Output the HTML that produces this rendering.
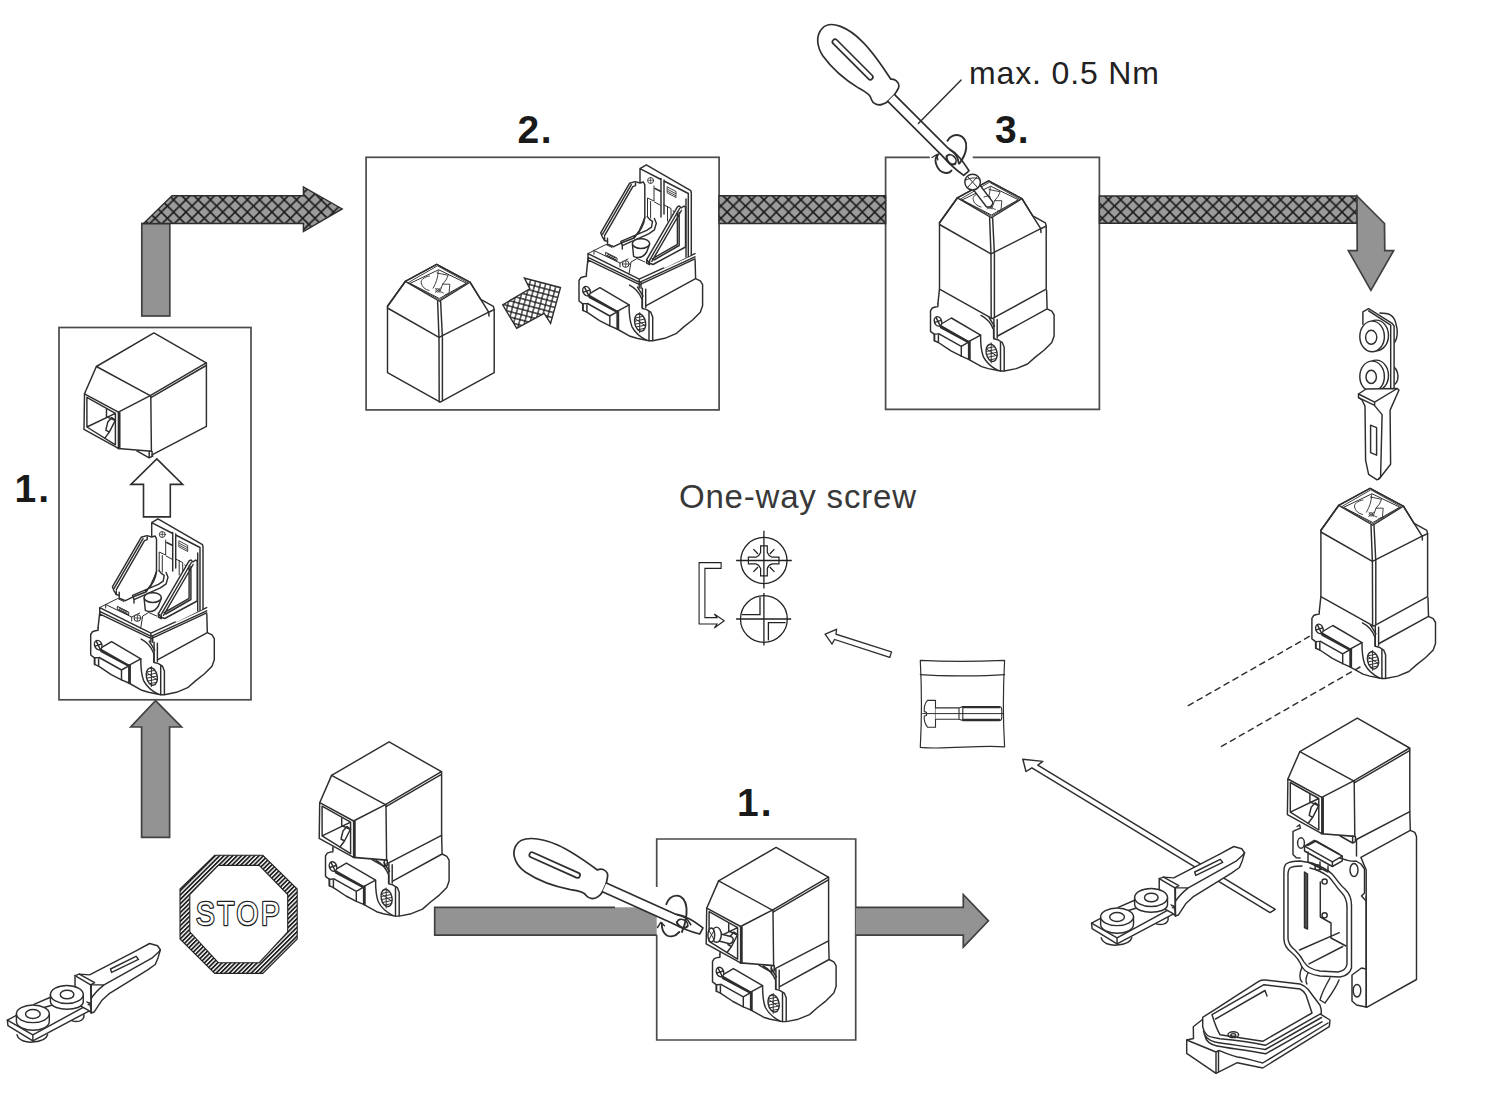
<!DOCTYPE html>
<html><head><meta charset="utf-8"><title>Assembly</title>
<style>
html,body{margin:0;padding:0;background:#fff;}
body{width:1500px;height:1096px;overflow:hidden;}
svg{display:block;}
.t{font-family:"Liberation Sans",sans-serif;}
#hact *{vector-effect:non-scaling-stroke;}
</style></head><body>
<svg width="1500" height="1096" viewBox="0 0 1500 1096">
<defs>
<pattern id="xh" patternUnits="userSpaceOnUse" width="12.3" height="12.3" x="727.07" y="199.83">
<rect width="12.3" height="12.3" fill="#9b9b9b"/>
<path d="M-1,-1 L13.3,13.3 M13.3,-1 L-1,13.3" stroke="#1a1a1a" stroke-width="1.55" fill="none"/>
</pattern>
<pattern id="xs" patternUnits="userSpaceOnUse" width="3" height="3">
<rect width="3" height="3" fill="#fff"/>
<path d="M0,1.5 H3" stroke="#222" stroke-width="0.9" fill="none"/>
</pattern>
<pattern id="gr" patternUnits="userSpaceOnUse" width="5.2" height="5.2" patternTransform="rotate(15)">
<rect width="5.2" height="5.2" fill="#fff"/>
<path d="M0,2.6 H5.2 M2.6,0 V5.2" stroke="#1a1a1a" stroke-width="1.2" fill="none"/>
</pattern>
<pattern id="st" patternUnits="userSpaceOnUse" width="3.1" height="3.1" patternTransform="rotate(-45)">
<rect width="3.1" height="3.1" fill="#fff"/>
<rect width="3.1" height="1.75" fill="#1e1e1e"/>
</pattern>
<g id="sidecap" fill="none">
<path d="M331.6,775.4 L389.1,741.8 L441.4,771.7 L441.6,835.3 L387.2,863.7 L386.6,860 L353.3,857.4 L319.2,838.3 L319.7,802.7 Z" fill="#fff" stroke="none"/>
<path d="M331.6,775.4 L389.1,741.8 L441.4,771.7 L385.4,804.6 Z" fill="#fff"/>
<path d="M386,806.6 L441.4,774.4"/>
<path d="M441.6,771.8 V835.5 M386,805 L386.6,860 M387.2,863.7 L441.6,835.3"/>
<path d="M331.6,775.4 L319.7,802.7 L353.6,821 L385.4,804.6" stroke-width="1.5"/>
<path d="M319.7,802.7 L319.2,838.3 L353.6,857.3 L353.6,821 M355,821.5 V857.5"/>
<path d="M322.1,806.2 L350.6,822.2 L350.6,853.7 L322.1,835.9 Z M322.1,835.9 L350.6,822.2"/>
<path d="M341.7,818.1 L341.7,825.5 L350.6,829.5 M343,831 L347,826.5 L350.6,829 L344.5,841 L341,839 Z M340,847 L344.5,841"/>
<path d="M353.3,857.4 L386.6,860.1" stroke-width="1.6"/>
<path d="M372,859.7 L384.4,866.7 L388,864.9 M384.4,860 V866.7 M387.3,860.3 V865"/>
</g>
<g id="body" fill="none">
<path d="M332.9,848.9 L334.5,834 M441.6,835.3 L442.1,854 M392.7,881.1 L442.1,854 L446.8,856.3 L449.1,860.1 L449.1,881.1 L446.8,887.6 L439.3,895.1 L430,902.5 L422.5,909.1 L411.3,913.7 L399.2,916.1 L395.5,916.1"/>
<path d="M392.2,864.7 V883 M388.9,863.7 V883"/>
<path d="M388.9,883.9 L392.7,884.8 L397.3,887.6 L399.2,892.3 V915.8 M395.5,886.5 V915.8"/>
<path d="M376,860.5 C381,863 386,868 388.6,874.8 V883.5 M384,862.5 L389.5,871.5"/>
<path d="M375.6,880.2 C375.5,890 376.5,897 378.4,902 C381,907 386,912 393,915.6"/>
<ellipse cx="386.6" cy="897.9" rx="5.4" ry="8.8" transform="rotate(-12 386.6 897.9)" fill="url(#xs)"/>
<path d="M386.2,888 V908 M381.5,894 L391.5,901" stroke-width="1"/>
<path d="M332.9,848.9 V851.7 L330.1,852.1 L327.3,853.1 L325.5,855.9 V876.4 L329.2,879.2 V885.7 L333.4,887.6 L346,896 L356.3,901.3 L363.6,904.4 L376.6,911.7 L383.3,913.7 L395.5,916.1"/>
<path d="M346.4,863.1 L375.6,880.2 L363.6,886.7 L334.5,870.1 Z" fill="#fff"/>
<path d="M335,871.6 L363.6,886.7 M335.6,872.8 L363.3,887.6 M334,878.9 L356.3,891.4 L363.6,887.2 M356.3,891.4 V901.3 M363.6,886.7 V904.4 M365,886 V905"/>
<path d="M329.6,880 V886 M333.4,880 V887.5 M329.2,879.2 L334,879"/>
<ellipse cx="333" cy="866.5" rx="3.6" ry="4.8" transform="rotate(-20 333 866.5)" fill="#fff"/>
<path d="M331,862.5 L335,870.5 M329.8,867.5 L336.2,865.5"/>

</g>
<g id="topcap" fill="none">
<path d="M436.7,264.3 L405.3,281.4 L387.5,306.3 V372.7 L440.2,402.1 L494.2,372.7 V309.6 L493.4,306.4 L480.7,299.3 L470,282.2 Z" fill="#fff"/>
<path d="M436.7,264.3 L405.3,281.4 L439.4,301.3 L470,282.2 Z" stroke-width="1.3"/>
<path d="M437.1,266 L408.3,282.6 L439.4,299.8 L467.6,283 Z" stroke-width="0.9"/>
<path d="M438.3,269.9 L410.1,283.4 L439.4,298.5 L466,283.4 Z" stroke-width="1"/>
<path d="M405.3,281.4 L387.5,306.3" stroke-width="1.7"/>
<path d="M470,282.2 L480.7,299.3 L488.7,312.2 L494.2,309.6 M488.7,312.2 L489,316" stroke-width="1.5"/>
<path d="M387.5,308 L439,337.4 L488.7,312.2"/>
<path d="M437.6,301.3 L439,337.4 L439.2,402 M440.6,301.3 L442.4,337.4 L442.4,400.5"/>
<path d="M438.3,270.7 C438,278 436,283 433.1,288.2 M429.5,276 C424,277 420.5,280 421.2,283 C422,287 425,289.5 429.1,290.5 M437,273 L448.2,275.3 L446,280 L442.6,284.2 L449.8,284.2 L449,293.7 L445.5,294.5 M442.6,284.2 L440.2,291" stroke-width="0.9"/>
<circle cx="437.6" cy="290.3" r="1.8" stroke-width="0.8"/>
<path d="M435.2,292.5 L440.5,288 M435.5,288.5 L440,292.5 M440,291.5 L443.5,293" stroke-width="0.8"/>
</g>
<g id="openhead" fill="none">
<!-- slab -->
<path d="M588,253.6 L600,247.5 L606,250 L618,244 L625,247 L640,240 L695,253.6 L639.2,279.2 Z" fill="#fff" stroke="none"/>
<path d="M588,253.6 L639.2,279.2 L695,253.6 M588,253.6 V262.1 M588,257.4 L639.5,282.4 L695,256.8 M588.4,260.2 L639.6,284.6 L695,258.8 M639.2,279.2 V288 M641,282 V288.3"/>
<path d="M588,253.6 L594,250.5 L594,254 M594,250.5 L606,244.5 L612,247.5 M594,250.5 L620,263 L620,267 M606,252.5 L617,258 L617,261 L606,255.5 Z M607.5,254 L615.5,258 M607.5,255.5 L615.5,259.5" stroke-width="1"/>
<path d="M620,263 L628,259 M629,274 L631,262 L637,258.5 L645,262" stroke-width="1"/>
<circle cx="625.7" cy="264" r="3.4" fill="#fff" stroke-width="1"/>
<path d="M623,264 H628.4 M625.7,261.3 V266.7" stroke-width="0.8"/>
<!-- back plate -->
<path d="M640,182 L640,168.6 L646.3,164.8 L690.8,190.7 L691.3,192.6 L691.3,255 L665,268 L640,256 Z" fill="#fff" stroke="none"/>
<path d="M640,182 L640,168.6 L646.3,164.8 L690.8,190.7 L691.3,192.6 V255.5 M640,168.6 L661,179.5 M664,181 L688.3,193.5 V256.5 M686,199 V257 M661,178.5 V217 M664,180 V214 M655,188.5 L661,191.5"/>
<circle cx="650.6" cy="180.5" r="3" stroke-width="0.9"/>
<path d="M648,180.3 H653.2 M650.6,177.8 V183" stroke-width="0.7"/>
<path d="M667.5,187 L676,191.5 L676,197.5 L667.5,193 Z M668,189.5 L675.5,193.5 M668,191.5 L675.5,195.5" stroke-width="0.9"/>
<path d="M654,186 L654,201 L647.5,198 L647.5,216 M650.6,201.5 V218 M654.5,202 L660,205 M664,205 L671,208.5 L671,218 M667.5,206.5 V221 M673,211 L680,214" stroke-width="1"/>
<!-- left wing -->
<path d="M600.7,232.8 L629.5,183.3 L635.2,181.6 L640,183 L643.4,182 L644.8,184.9 L644.8,217.5 C643,223 641,227 639.1,230.9 L634,238 L620.4,243.3 L613.7,246.7 L607.5,244.3 L607.5,241.4 L604.6,240.5 L602.2,236.6 Z" fill="#fff"/>
<path d="M602.6,234.2 L631.3,184.7 M604.6,235.6 L632.8,186.6 L635.5,185.6 L635.5,183 M604.6,240.5 L604.6,237 M607.5,241.4 L607.5,238.2"/>
<!-- rail -->
<path d="M620.9,241.4 L646.7,230.4 L651.5,227.1 L652.5,221.3 L649.6,219.4 L647.2,216.5 M622.3,245.7 L648.7,233.8 L654.4,229.9 L656.3,223.2 L654.4,218.4 M620.9,241.4 L622.3,245.7 L622.3,249 M634,238 C640,232 644,226 644.8,217.5"/>
<!-- pin -->
<path d="M632.4,244.3 L633.6,256.3 C638,258.5 643,257.8 646.7,252 L649.6,244.3" fill="#fff"/>
<ellipse cx="641" cy="243.6" rx="8.6" ry="4.8" fill="#fff"/>
<!-- right wing -->
<path d="M646.7,259.6 L677.4,206.9 L679.3,206 L681.2,207.9 L684.1,206 L685.5,207.4 L685.5,247 L653,264.5 L649,263 Z" fill="#fff"/>
<path d="M649.3,260.8 L679.6,208.5 M651.8,261.3 L681.4,210.5 M677.4,211.7 V244.3 L652.5,258.7 M679.2,212.5 V245.5 L654,260 M646.7,259.6 V263.2 L649.5,264.7 M649.5,261 V264.7"/>
</g>
<g id="sd" fill="none">
<path fill="#fff" d="M0,-4.8 C-1,-8 -1,-12 -3,-14 C-6,-16.5 -11,-16.5 -13.5,-13 C-25,-15.5 -45,-19.5 -60,-19.5 C-80,-19.5 -98,-13 -98,-1 C-98,10 -88,16.5 -78,18.5 C-63,21 -45,19.5 -30,16 C-22,13.5 -16,12.5 -13,15 C-9,17 -4,15 -2,11 C-1,9 0,6 0,4.8 Z"/>
<rect x="-82" y="-2.6" width="55" height="5.2" rx="2.6"/>
<path fill="#fff" d="M0,-4.8 L76,-4.8 C86,-7.5 95,-6 106.5,-3.5 L106,3.5 C97,5 88,5.5 76,4.8 L0,4.8"/>
<path d="M78,-4.8 C84,-6.5 90,-5 94,-1.5 M80,2 C86,6.5 91,5 92,1"/>
<ellipse cx="86" cy="1" rx="5.5" ry="4" />
</g>
<g id="hact" fill="none">
<path d="M150,880 C160,930 230,950 290,945 C360,940 410,915 420,880" fill="#fff"/>
<path d="M600,730 C615,760 665,770 700,760 C730,750 745,730 740,700" fill="#fff"/>
<path d="M700,345 L790,352 L1200,140 L1320,75 L1390,95 L1415,130 L1395,200 L1370,260 L1300,310 L960,520 L900,575 L830,680 L805,688 L805,440 Z" fill="#fff"/>
<path d="M800,440 L918,440 L1340,205 L1400,150 L1415,130 M918,440 C880,470 830,520 805,560"/>
<path d="M975,300 L1200,188 L1222,215 L985,330 Z"/>
<path d="M65,752 L140,712 L660,560 L790,600 L805,660 L290,935 L70,800 Z" fill="#fff"/>
<path d="M65,752 L290,882 L795,605 M290,882 V935 M300,612 L455,545"/>
<path d="M662,358 L700,345 L835,420 L800,440 Z" fill="#fff"/>
<path d="M662,358 V600 L785,668 L805,688 M800,440 L805,688" fill="#fff"/>
<path d="M445,525 V590 C450,635 530,655 590,655 C660,655 730,635 735,590 V525" fill="#fff"/>
<ellipse cx="590" cy="525" rx="145" ry="80" fill="#fff"/>
<ellipse cx="592" cy="525" rx="60" ry="38"/>
<path d="M145,695 V765 C150,815 230,840 290,840 C360,840 430,815 435,765 V695" fill="#fff"/>
<ellipse cx="290" cy="695" rx="145" ry="78" fill="#fff"/>
<ellipse cx="290" cy="697" rx="65" ry="40"/>
</g>
</defs>
<rect width="1500" height="1096" fill="#fff"/>

<!-- ===== labels ===== -->
<g class="t" font-weight="bold" fill="#1a1a1a" font-size="39">
<text x="14.5" y="502" letter-spacing="2">1.</text>
<text x="517.5" y="142.7" letter-spacing="1.5">2.</text>
<text x="995" y="143" letter-spacing="1">3.</text>
<text x="737" y="816" letter-spacing="2">1.</text>
</g>
<text class="t" x="969" y="83.6" font-size="32" fill="#222" letter-spacing="0.86">max. 0.5 Nm</text>
<text class="t" x="679" y="508.3" font-size="33" fill="#383838" letter-spacing="0.8">One-way screw</text>

<!-- ===== boxes ===== -->
<g fill="none" stroke="#4a4a4a" stroke-width="1.7">
<rect x="59" y="327.5" width="192" height="372.3"/>
<rect x="366.1" y="157.3" width="353" height="252.6"/>
<path d="M929.8,157.3 H885.6 V409.3 H1099.4 V157.3 H972.8"/>
<path d="M656.7,887 V839 H855.7 V1040 H656.7 V935"/>
</g>

<!-- ===== hatched bands and gray arrows ===== -->
<g stroke="#2e2e2e" stroke-width="1.4" stroke-linejoin="miter">
<!-- L arrow top-left -->
<rect x="141.8" y="223.5" width="28" height="92.5" fill="#939393" stroke="#404040" stroke-width="1.7"/>
<path d="M143.5,223.5 L172,195.7 L303.4,195.7 L303.4,187 L342.2,208.9 L303.4,231.6 L303.4,223.5 Z" fill="url(#xh)"/>
<!-- band between box 2 and 3 -->
<path d="M719,195.7 H885.6 V223.5 H719 Z" fill="url(#xh)"/>
<!-- band right + down arrow -->
<path d="M1099.4,196 H1357 V223.3 H1099.4 Z" fill="url(#xh)"/>
<path d="M1357,196 L1384.5,223.5 L1384.8,250.7 L1393.6,250.7 L1370.9,290.4 L1348.4,250.7 L1357.2,250.7 Z" fill="#939393" stroke="#404040" stroke-width="1.7"/>
<!-- up arrow under box1 -->
<path d="M155.5,700.6 L181.6,727 L169.6,727 L169.6,837.4 L141.6,837.4 L141.6,727 L130.7,727 Z" fill="#939393" stroke="#404040" stroke-width="1.7"/>
<!-- bottom arrow -->
<rect x="434.7" y="907.3" width="222" height="27.8" fill="#939393" stroke="none"/>
<path d="M615,907.3 H434.7 V935.1 H656.7" fill="none" stroke="#404040" stroke-width="1.7"/>
<path d="M855.8,907.3 L963.3,907.3 L963.3,894.5 L988.4,920.8 L963.3,947.1 L963.3,935.1 L855.8,935.1" fill="#939393" stroke="#404040" stroke-width="1.7"/>
</g>

<!-- ===== STOP sign ===== -->
<g stroke="#222" stroke-width="1.1">
<path fill-rule="evenodd" fill="url(#st)" d="M214.7,855.3 L262.8,855.3 L297.2,889 L297.2,939 L262.8,973.4 L214.7,973.4 L180,939 L180,889 Z M218.3,865.4 L259.2,865.4 L287.7,894.5 L287.7,931.8 L259.2,962.7 L218.3,962.7 L189.8,931.8 L189.8,894.5 Z"/>
</g>
<g transform="translate(196,924.6) scale(0.85,1)" class="t" font-size="33" letter-spacing="3.1">
<text x="0" y="0" fill="#1e1e1e" stroke="#1e1e1e" stroke-width="2.7" stroke-linejoin="round">STOP</text>
<text x="0" y="0" fill="#fff">STOP</text>
</g>

<!-- ===== one-way screw symbols ===== -->
<g fill="none" stroke="#222" stroke-width="1.1">
<circle cx="763.9" cy="560.5" r="23.1" stroke-width="1.3"/>
<path d="M736.1,560.5 H791.8 M763.9,530.8 V588.6" stroke-width="1.3"/>
<path d="M760.6,545.8 H767.3 V552.5 Q768.5,556 772,557.2 H779 V563.9 H772 Q768.5,565 767.3,568.5 V575.9 H760.6 V568.5 Q759.3,565 756,563.9 H748.4 V557.2 H756 Q759.3,556 760.6,552.5 Z" stroke-width="1.2"/>
<path d="M753.4,549.1 L758,554 M774.4,549.1 L769.8,554 M753.4,571.9 L758,567 M774.4,571.9 L769.8,567" stroke-width="1.3"/>
<circle cx="763.9" cy="619" r="23.4" stroke-width="1.3"/>
<path d="M736.1,619 H791.2 M763.9,593.1 V645.4" stroke-width="1.3"/>
<path d="M741.7,614.6 H760 V597 M785.6,622.6 H768.4 V640.4" stroke-width="1.3"/>
<path d="M699.1,562.6 H721.1 V568.4 H704.9 V617.6 H717 L714.3,614 L724.2,620.8 L714.3,628 L717,624 H699.1 Z"/>
</g>

<!-- ===== devices ===== -->
<g stroke="#2e2e2e" stroke-width="1.45" stroke-linejoin="round" stroke-linecap="round" fill="none">
<!-- D1 near STOP -->
<use href="#body"/>
<use href="#sidecap"/>
<!-- box 2 cap -->
<use href="#topcap"/>
<!-- box 1 cap -->
<use href="#sidecap" transform="translate(-235.2,-408.9)"/>
<!-- D5 bottom box -->
<use href="#body" transform="translate(387,105.5)"/>
<use href="#sidecap" transform="translate(387,105.5)"/>
<!-- D3 box 3 -->
<use href="#body" transform="translate(605,-545.1)"/>
<use href="#topcap" transform="translate(552,-83.5)"/>
<!-- D4 right -->
<use href="#body" transform="translate(986.4,-237.6)"/>
<use href="#topcap" transform="translate(933.4,224)"/>
<!-- box2 open device -->
<use href="#body" transform="translate(253.5,-575.4)"/>
<use href="#openhead"/>
<!-- box1 open device -->
<use href="#body" transform="translate(-234.8,-221.4)"/>
<use href="#openhead" transform="translate(-488.3,354)"/>
<!-- screw at box3 -->
<path d="M980,185.2 L992.7,201.9 C993.5,205 990,208 986.4,206.8 L973.7,190.1 Z" fill="#fff"/>
<path d="M984,197 C986,196 989,195.5 990.5,197" stroke-width="1"/>
<circle cx="972.6" cy="182.1" r="7.8" fill="#fff"/>
<path d="M967.5,176.5 L977.5,187.5 M977.5,176.5 L967.5,187.5 M966,180 C970,178 975,177 979,179" stroke-width="1"/>
<!-- screw in D5 opening -->
<path d="M719,933.5 L731.5,936.8 C734,938 734,943 729.5,943.8 L719,941 Z" fill="#fff"/>
<ellipse cx="716.5" cy="934.7" rx="4.8" ry="7.6" fill="#fff"/>
<ellipse cx="711.3" cy="935" rx="3.4" ry="7" fill="#fff"/>
<path d="M709,930.5 L714,939.5 M714,930.5 L709,939.5" stroke-width="1"/>
<!-- screwdrivers -->
<use href="#sd" transform="translate(891.2,98) rotate(45)" stroke-width="1.7"/>
<use href="#sd" transform="translate(604.4,887.4) rotate(24.2)" stroke-width="1.7"/>
<path d="M961.1,79.9 L918.4,123.4"/>
<g stroke-width="1.9">
<path d="M947.5,140.7 C950,136 955,134.5 958.5,135.2 C964,136.5 967,142 966.2,148 C965.5,154 962.5,159.5 959.4,163.5"/>
<path d="M938.4,154.3 C935.5,157 935,161 936.1,164 C937.5,168.5 941,172.5 945.7,173 C948.5,173.3 950.5,172 951.5,170.5"/>
<path d="M932,157.5 L936.8,154.5 L937.8,159.8" stroke-width="1.4"/>
<path d="M666.3,904.2 C668,899 672,895.8 676.7,895.6 C682,895.5 686,901 686.5,908 C687,916 685,925 681.9,932"/>
<path d="M661.9,923.3 C661.5,928 663.5,933 667,935.5 C670,937 675,936.8 679.3,932"/>
<path d="M657.5,927.5 L660.8,922.3 L664.5,925.8" stroke-width="1.4"/>
</g>

<!-- box2 hatched arrow -->
<path d="M502.7,304.8 L529.8,288.8 L524.4,278 L560.5,287.6 L550.6,323.3 L544.2,313.4 L516.7,328.4 Z" fill="url(#gr)" stroke-width="1.4" stroke-linejoin="miter"/>
<!-- box1 white arrow -->
<path d="M156.8,458.9 L182.7,484.4 L170.3,484.4 V516.9 H143.5 V484.4 H130.9 Z" fill="#fff" stroke-width="1.6" stroke-linejoin="miter"/>
<!-- small arrow -->
<path d="M825.2,634.2 L836.5,629.4 L836,634.2 L891.5,652 L889.8,657.4 L834.5,639.5 L832,644.1 Z" fill="#fff" stroke-width="1.3" stroke-linejoin="miter"/>
<!-- screw bag -->
<path d="M920.3,660.3 C940,661.5 980,661.5 1004.6,660.3 C1003,690 1003,720 1004.6,746.9 C980,744.5 945,750 920.3,747.4 C921.8,720 921.8,690 920.3,660.3 Z" fill="#fff" stroke-width="1.2"/>
<path d="M920.3,674.6 C940,676 980,676.5 1004.6,674.6" stroke-width="1.2"/>
<path d="M927.5,700.4 H935.5 V727.2 H927.5 C925,724 924,719 924.2,716 L926.5,715.5 V712.2 L924.2,711.6 C924,707 925,703 927.5,700.4 Z" fill="#fff" stroke-width="1.1"/>
<path d="M935.5,707.9 H959 V719.2 H935.5 M959,707.9 L962.8,706.5 H999 C1001,706.5 1001.8,708 1001.8,710 V717.5 C1001.8,719.5 1001,720.6 999,720.6 H962.8 L959,719.2 M962.8,706.5 V720.6" fill="#fff" stroke-width="1.1"/>
<path d="M963,707.5 H999.5 M963,719.5 H999.5" stroke-width="1.6"/>
<path d="M922.8,713.6 H1003.6" stroke-width="1"/>
<!-- dashed lines -->
<path d="M1188.3,705.6 L1311,635.5 M1221.5,746.4 L1360,667" stroke-dasharray="5.5 4.8" stroke-width="1.45"/>
<!-- horizontal actuators -->
<use class="ns" href="#hact" transform="translate(0,935) scale(0.11333)"/>
<!-- thin long arrow -->
<path d="M1275.3,909.3 L1037.8,765.1 L1042.8,761.4 L1022.8,759.2 L1026,771.5 L1031.9,767.8 L1270,912.6 Z" fill="#fff"/>
<use class="ns" href="#hact" transform="translate(1084.2,838) scale(0.11333)"/>
<!-- big device bottom right -->
<g>
<!-- tall right box -->
<path d="M1360.9,857.4 L1410.3,830.3 L1414.8,832.4 L1416.5,836.5 V979.5 L1367.1,1007.2 L1366.2,1007 V870 Z" fill="#fff"/>
<path d="M1409.8,811.6 L1410.3,830.3 M1356.5,839.5 V856"/>
<path d="M1366.2,896 V1007"/>
<!-- flanges -->
<path d="M1293,831.4 L1296.3,829.8 L1300.4,828.1 L1299.6,824.8 L1297.1,826.5 M1293,831.4 V854.4 L1296.3,857.7 L1300,858" />
<ellipse cx="1301" cy="843" rx="3.4" ry="5.2"/>
<path d="M1340,858 C1346,860 1351,862 1356,861 L1361,864 L1364.5,869 V893 L1361.5,896 L1366.2,901" fill="#fff"/>
<ellipse cx="1354" cy="870" rx="4" ry="6.5"/>
<path d="M1352,975 L1361.5,968 L1366,969 V1007 L1356.5,1005 L1352,1001 Z" fill="#fff"/>
<ellipse cx="1357" cy="990.7" rx="3.8" ry="6.3"/>
<!-- front frame -->
<path d="M1300,861 C1294,861 1289,862 1286,864 C1284,866 1283.9,869 1283.9,872 V939 C1284,946 1288,950 1292,953 C1297,957 1300,962 1302,967 C1305,972 1312,975 1320,976 L1340,977 C1346,976 1350,973 1351.5,968 V905 C1351.5,898 1349,893 1345,889 C1339,884 1336,878 1332,874 C1327,869 1320,866 1312,863 Z" fill="#fff"/>
<path d="M1302,866 C1296,866 1292,866.5 1290,868 C1288.5,869.5 1288,872 1288,875 V938 C1288,944 1291,947 1295,950 C1299,954 1302,958 1304,962 C1307,967 1313,970 1320,971 L1338,972 C1343,971 1346.5,968.5 1347,964 V907 C1347,900 1345,896 1341,892 C1336,887 1333,881 1329,877 C1324,873 1318,870 1310,868"/>
<path d="M1304.5,872 V927.5 L1307.5,929 V874 Z" fill="#555"/>
<path d="M1320.3,882 V917 L1331,923 V938 L1346,946 M1299.5,950 L1339.3,932.7 M1309,963.9 L1342.8,946.5"/>
<circle cx="1324.6" cy="881.5" r="2.6"/>
<circle cx="1324.6" cy="915.3" r="2.6"/>
<!-- latch -->
<path d="M1304.5,846.2 L1314.4,840.5 L1342.3,856.1 L1332.4,861.8 Z" fill="#fff"/>
<path d="M1304.5,846.2 V851 L1332.4,866.5 V861.8 M1332.4,866.5 L1342.3,860.8 V856.1 M1307.5,845.5 L1316,841 L1339,854 M1308,852 V862 L1328,872 V866 M1320,862 V870" fill="none"/>
<circle cx="1317.6" cy="867.6" r="2.6"/>
<!-- hinge -->
<path d="M1302,967 C1300,972 1298,978 1302,982 M1308,973 C1306,977 1305,981 1307,984 M1330,978 C1326,985 1322,992 1320,1000 L1325,1003 C1330,996 1336,988 1339,980"/>
<!-- lid -->
<path d="M1186.7,1040 L1193.5,1038.5 L1193.3,1026.7 L1203,1019 L1259,983 L1300,986 L1321.3,1014.7 L1330,1020 L1329.3,1026.7 L1262.7,1068 L1237.3,1062.7 L1216,1073.3 L1186.7,1053.3 Z" fill="#fff"/>
<path d="M1186.7,1040 L1216,1052 V1073.3 M1218.5,1051.5 V1071.5 M1216,1052 L1219,1050.5 C1225,1053 1232,1056 1237.3,1057 C1245,1058 1255,1061 1262.7,1063 L1328,1023"/>
<path d="M1202.7,1026.7 L1202.7,1017.3 C1215,1010 1245,990 1258.7,981.3 C1261,980 1263,979.8 1265.3,980 L1300,984 C1303,985 1306,987 1308,989.3 L1320,1005.3 C1321,1008 1321.5,1011 1321.3,1013.3 L1265.3,1045.3 C1255,1043 1235,1040 1220,1038.7 C1212,1037.5 1207,1036 1206.7,1034.7 C1204,1032 1203,1029 1202.7,1026.7 Z" fill="#fff"/>
<path d="M1212,1014.7 L1264,984.7 L1300,989 C1303,990.5 1305,993 1306,995 L1312,1013 L1262.7,1041.3 L1220,1034.7 C1216,1028 1214,1021 1212,1014.7 Z"/>
<path d="M1215.5,1019 L1265,990.5 M1265,990.5 L1267,996"/>
<path d="M1203.5,1031 C1204,1036 1208,1040 1215,1042 C1228,1044.5 1245,1046 1265.3,1049.5 L1321.5,1017.5 M1205,1036 C1206,1041 1210,1044.5 1217,1046 C1230,1048.5 1246,1050 1265.6,1053.8 L1322,1021.8"/>
<ellipse cx="1233.3" cy="1034.7" rx="5.3" ry="2.9"/>
<ellipse cx="1233.3" cy="1034.9" rx="2.4" ry="1.3"/>
</g>
<use href="#sidecap" transform="translate(968.2,-23.7)"/>
<!-- vertical actuator (right) -->
<g>
<path d="M1379.9,313 C1384,313 1388,313.6 1390.3,314.8 C1393,316.5 1395,319.5 1395.8,323 C1397.5,329 1398,337 1394.7,342.5 M1392.1,366 C1395,367 1397.5,371 1398,376 C1398,380 1397,383.5 1393.5,385"/>
<path d="M1362.9,324.3 V311.8 L1368.6,308.7 L1392.1,323.4 L1394.1,326 V389.4 M1368.6,310.8 L1390.7,325.2 V390.2" fill="#fff"/>
<ellipse cx="1376.2" cy="335.4" rx="12.3" ry="15.3" fill="#fff"/>
<ellipse cx="1372.1" cy="336.4" rx="12.3" ry="15.3" fill="#fff"/>
<ellipse cx="1371.2" cy="337.3" rx="5.6" ry="7"/>
<ellipse cx="1376.2" cy="375.4" rx="12.3" ry="15.3" fill="#fff"/>
<ellipse cx="1372.1" cy="376.4" rx="12.3" ry="15.3" fill="#fff"/>
<ellipse cx="1371.2" cy="376.9" rx="5.2" ry="6.6"/>
<path d="M1358.5,394 L1366.1,389 L1397.2,388.5 L1399,390 L1390.1,410.1 L1390.6,464.3 L1380.1,477.8 L1377.1,479.8 L1368.6,474.3 L1365.6,460.3 L1365,406.1 L1362,400 L1358.5,397.6 Z" fill="#fff"/>
<path d="M1358.5,394 L1374.6,402.1 L1397.2,388.5 M1358.5,397.6 L1374.1,405.1 M1374.6,402.1 V405.6 L1382.1,414.6 L1380.6,476.8 L1378.6,479.3"/>
<path d="M1370.6,425.1 L1376.6,427.7 V455.2 L1370.6,452.7 Z"/>
</g>
</g>

</svg>
</body></html>
